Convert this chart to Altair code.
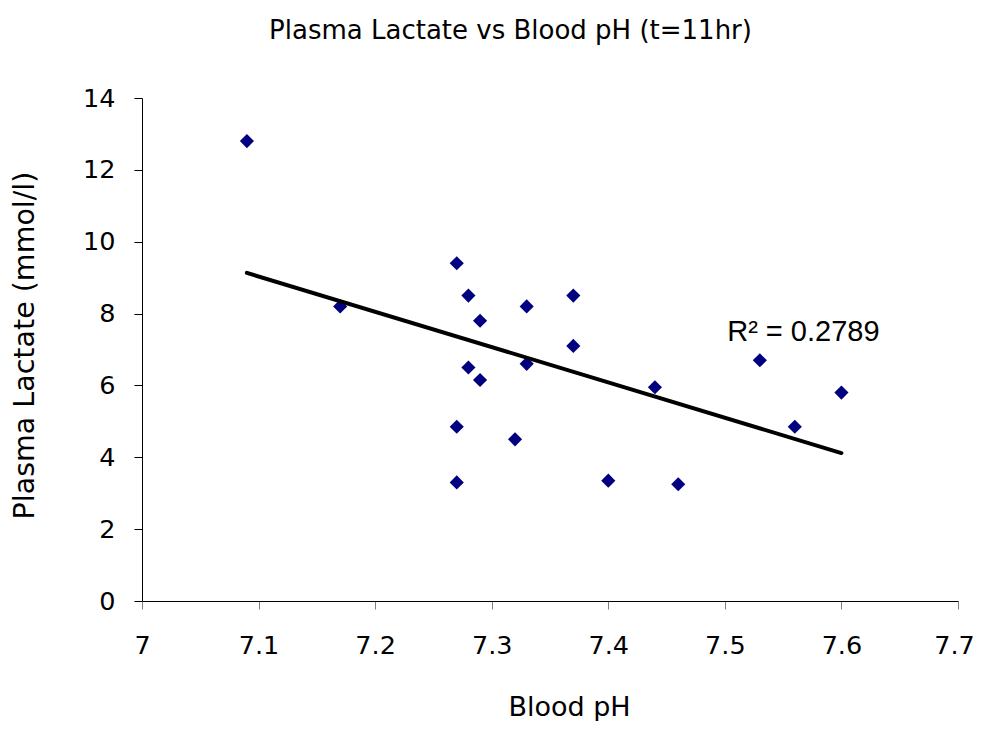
import altair as alt
import pandas as pd

ph = [7.09, 7.17, 7.27, 7.28, 7.29, 7.33, 7.37, 7.37, 7.33, 7.28,
      7.29, 7.44, 7.27, 7.32, 7.27, 7.40, 7.46, 7.53, 7.56, 7.60]
lactate = [12.8, 8.2, 9.4, 8.5, 7.8, 8.2, 8.5, 7.1, 6.6, 6.5,
           6.15, 5.95, 4.85, 4.5, 3.3, 3.35, 3.25, 6.7, 4.85, 5.8]
x_ticks = [7.0, 7.1, 7.2, 7.3, 7.4, 7.5, 7.6, 7.7]
y_ticks = [0, 2, 4, 6, 8, 10, 12, 14]
r2_label = ["R² = 0.2789"]

df = pd.DataFrame({"ph": ph, "lactate": lactate})
lab = pd.DataFrame({"text": r2_label})
FONT = "DejaVu Sans"

xscale = alt.Scale(domain=[7.0, 7.7], nice=False, zero=False)
yscale = alt.Scale(domain=[0, 14], nice=False)

xaxis = alt.Axis(values=x_ticks, title="Blood pH", grid=False, domain=True,
                 domainColor="black", domainWidth=1, tickColor="#808080",
                 tickSize=8, labelFontSize=25.5, labelFont=FONT, labelColor="black",
                 labelBaseline="alphabetic", labelPadding=44,
                 labelOffset={"condition": {"test": "datum.value >= 7.65", "value": -4},
                              "value": 0},
                 titleFont=FONT, titleFontSize=27, titleFontWeight="normal",
                 titleColor="black", titleBaseline="alphabetic",
                 titleAlign="center", titleX=427, titleY=114,
                 format="~g", labelFlush=False)
yaxis = alt.Axis(values=y_ticks, title="Plasma Lactate (mmol/l)", grid=False,
                 domain=True, domainColor="black", domainWidth=1,
                 tickColor="black", tickSize=8, labelFontSize=25.5, labelFont=FONT,
                 labelColor="black", labelPadding=19, labelBaseline="middle",
                 titleFont=FONT, titleFontSize=28.5, titleFontWeight="normal",
                 titleColor="black", titleAngle=270, titleBaseline="alphabetic",
                 titleAlign="center", titleX=-109, titleY=247, labelFlush=False)

points = alt.Chart(df).mark_point(shape="diamond", filled=True, size=200,
                                  color="#000080", opacity=1).encode(
    x=alt.X("ph:Q", scale=xscale, axis=xaxis),
    y=alt.Y("lactate:Q", scale=yscale, axis=yaxis),
)

trend = alt.Chart(df).transform_regression(
    "ph", "lactate", extent=[min(ph), max(ph)]
).mark_line(color="black", strokeWidth=4, strokeCap="round").encode(
    x=alt.X("ph:Q", scale=xscale),
    y=alt.Y("lactate:Q", scale=yscale),
)

label = alt.Chart(lab).mark_text(
    font="Liberation Sans", fontSize=29, align="left", baseline="alphabetic",
    color="black"
).encode(text="text:N", x=alt.datum(7.502), y=alt.datum(7.25))

chart = alt.layer(points, trend, label).properties(
    width=816, height=503,
    title=alt.TitleParams("Plasma Lactate vs Blood pH (t=11hr)", font=FONT,
                          fontSize=26, fontWeight="normal", color="black",
                          anchor="middle", baseline="alphabetic",
                          offset=21, dx=-39.5),
    autosize=alt.AutoSizeParams(type="none"),
    padding={"left": 134, "top": 90, "right": 16, "bottom": 120},
).configure(background="white").configure_view(stroke=None)

chart.save("out.html", embed_options={"renderer": "svg", "actions": False})
